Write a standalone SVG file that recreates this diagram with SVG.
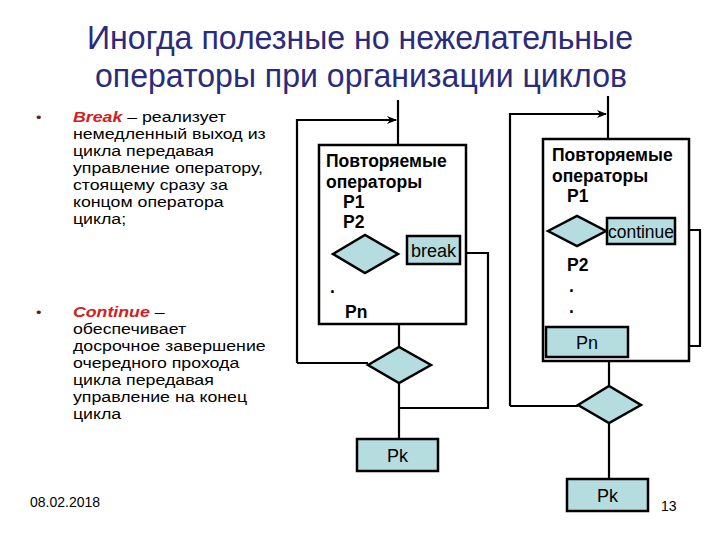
<svg xmlns="http://www.w3.org/2000/svg" width="720" height="540" viewBox="0 0 720 540">
<defs>
<style>
.title{font-family:"Liberation Sans",Arial,sans-serif;font-size:33px;fill:#2b2b7c}
.txt{font-family:"Liberation Sans",Arial,sans-serif;font-size:14.8px;fill:#000}
.kw{font-weight:bold;font-style:italic;fill:#d02020}
.bul{font-family:"Liberation Sans",Arial,sans-serif;font-size:13px;fill:#5a2020}
.lbl{font-family:"Liberation Sans",Arial,sans-serif;font-size:17.5px;font-weight:bold;fill:#000}
.lbn{font-family:"Liberation Sans",Arial,sans-serif;font-size:18px;fill:#000}
.small{font-family:"Liberation Sans",Arial,sans-serif;font-size:14px;fill:#000}
.frame{fill:#fff;stroke:#000;stroke-width:2.5}
.dia{fill:#b5dcdf;stroke:#000;stroke-width:2.5}
.blk{fill:#b5dcdf;stroke:#000;stroke-width:2.5}
.ln{fill:none;stroke:#000;stroke-width:2.2}
</style>
<marker id="arr" markerWidth="10" markerHeight="8" refX="9" refY="4" orient="auto" markerUnits="userSpaceOnUse">
<path d="M0,0 L10,4 L0,8 L3,4 Z" fill="#000"/>
</marker>
</defs>
<rect width="720" height="540" fill="#fff"/>
<g id="title">
<text class="title" x="87" y="49" textLength="546" lengthAdjust="spacingAndGlyphs">Иногда полезные но нежелательные</text>
<text class="title" x="95" y="87" textLength="532" lengthAdjust="spacingAndGlyphs">операторы при организации циклов</text>
</g>
<g id="bullets" transform="scale(1.2,1)">
<text class="bul" x="30" y="122">•</text>
<text class="txt" x="60.8" y="122"><tspan class="kw">Break</tspan> – реализует</text>
<text class="txt" x="60.8" y="139">немедленный выход из</text>
<text class="txt" x="60.8" y="156">цикла передавая</text>
<text class="txt" x="60.8" y="173">управление оператору,</text>
<text class="txt" x="60.8" y="190">стоящему сразу за</text>
<text class="txt" x="60.8" y="207">концом оператора</text>
<text class="txt" x="60.8" y="224">цикла;</text>
<text class="bul" x="30" y="317">•</text>
<text class="txt" x="60.8" y="317"><tspan class="kw">Continue</tspan> –</text>
<text class="txt" x="60.8" y="334">обеспечивает</text>
<text class="txt" x="60.8" y="351">досрочное завершение</text>
<text class="txt" x="60.8" y="368">очередного прохода</text>
<text class="txt" x="60.8" y="385">цикла передавая</text>
<text class="txt" x="60.8" y="402">управление на конец</text>
<text class="txt" x="60.8" y="419">цикла</text>
</g>
<g id="connectors">
<path class="ln" d="M398,100 V145"/>
<path class="ln" d="M297,363 V120 H396" marker-end="url(#arr)"/>
<path class="ln" d="M297,363 H368"/>
<path class="ln" d="M398,254 H407"/>
<path class="ln" d="M460,253 H488 V408 H399"/>
<path class="ln" d="M399,324 V347"/>
<path class="ln" d="M399,383 V439"/>
<path class="ln" d="M608,96 V139"/>
<path class="ln" d="M510,406 V114 H606" marker-end="url(#arr)"/>
<path class="ln" d="M510,406 H578"/>
<path class="ln" d="M675,230 H700 V346 H628"/>
<path class="ln" d="M609,361 V386"/>
<path class="ln" d="M609,423 V479"/>
</g>
<g id="left-loop">
<rect class="frame" x="319" y="145" width="147" height="179"/>
<text class="lbl" x="326" y="167">Повторяемые</text>
<text class="lbl" x="326" y="188">операторы</text>
<text class="lbl" x="343" y="208">P1</text>
<text class="lbl" x="343" y="228">P2</text>
<text class="lbl" x="330" y="293">.</text>
<text class="lbl" x="345" y="318">Pn</text>
</g>
<g id="left-cond">
<polygon class="dia" points="333,254 365,235 398,254 365,273"/>
</g>
<g id="break">
<rect class="blk" x="407" y="236" width="53" height="28"/>
<text class="lbn" x="433.5" y="257" text-anchor="middle">break</text>
</g>
<g id="left-exit">
<polygon class="dia" points="368,365 399,347 431,365 399,383"/>
</g>
<g id="left-pk">
<rect class="blk" x="357" y="439" width="81" height="32"/>
<text class="lbn" x="397.5" y="462" text-anchor="middle" font-size="17">Pk</text>
</g>
<g id="right-loop">
<rect class="frame" x="543" y="139" width="146" height="222"/>
<text class="lbl" x="552" y="161">Повторяемые</text>
<text class="lbl" x="552" y="182">операторы</text>
<text class="lbl" x="567" y="202">P1</text>
<text class="lbl" x="567" y="271">P2</text>
<text class="lbl" x="569" y="292">.</text>
<text class="lbl" x="569" y="313">.</text>
</g>
<g id="right-cond">
<polygon class="dia" points="548,231 577,216 606,231 577,246"/>
</g>
<g id="continue">
<rect class="blk" x="607" y="218" width="68" height="26"/>
<text class="lbn" x="641" y="238" text-anchor="middle" textLength="66" lengthAdjust="spacingAndGlyphs">continue</text>
</g>
<g id="right-pn">
<rect class="blk" x="546" y="327" width="82" height="30"/>
<text class="lbn" x="587" y="349" text-anchor="middle" font-size="17">Pn</text>
</g>
<g id="right-exit">
<polygon class="dia" points="578,405 609,386 641,405 609,423"/>
</g>
<g id="right-pk">
<rect class="blk" x="567" y="479" width="81" height="32"/>
<text class="lbn" x="607.5" y="502" text-anchor="middle" font-size="17">Pk</text>
</g>
<g id="footer">
<text class="small" x="30" y="507">08.02.2018</text>
<text class="small" x="661" y="511">13</text>
</g>
</svg>
